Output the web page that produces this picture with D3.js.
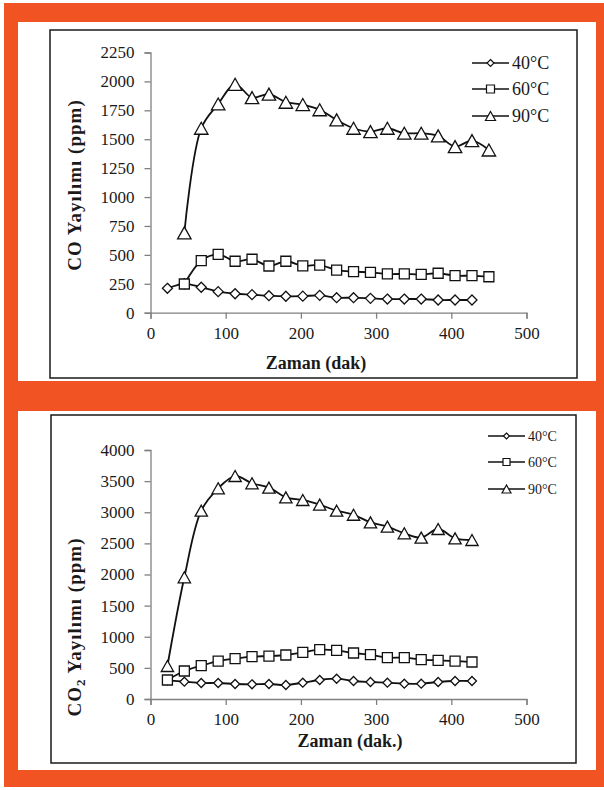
<!DOCTYPE html>
<html><head><meta charset="utf-8">
<script src="https://cdn.jsdelivr.net/npm/d3@7"></script>
<style>
html,body{margin:0;padding:0;background:#fff;}
svg{display:block;}
text{font-family:"Liberation Serif","Times New Roman",serif;fill:#1a1a1a;}
</style></head>
<body><svg id="c" width="604" height="790"></svg>
<script>
// ---------- data ----------
const xTicks = [0, 100, 200, 300, 400, 500];
const coTicks = [0, 250, 500, 750, 1000, 1250, 1500, 1750, 2000, 2250];
const co2Ticks = [0, 500, 1000, 1500, 2000, 2500, 3000, 3500, 4000];
const seriesNames = ["40°C", "60°C", "90°C"];

const timesA = [22.5, 45, 67.5, 90, 112.5, 135, 157.5, 180, 202.5, 225, 247.5, 270, 292.5, 315, 337.5, 360, 382.5, 405, 427.5];
const timesB = [45, 67.5, 90, 112.5, 135, 157.5, 180, 202.5, 225, 247.5, 270, 292.5, 315, 337.5, 360, 382.5, 405, 427.5, 450];

const co40 = [211, 250, 220, 182, 164, 156, 147, 142, 143, 150, 130, 130, 124, 118, 118, 118, 110, 110, 110];
const co60 = [248, 450, 505, 445, 462, 404, 445, 405, 412, 369, 355, 349, 335, 335, 332, 341, 320, 320, 311];
const co90 = [690, 1595, 1805, 1975, 1860, 1890, 1820, 1800, 1755, 1667, 1595, 1566, 1595, 1552, 1552, 1529, 1436, 1488, 1407];

const co2_40 = [300, 278, 257, 257, 241, 236, 241, 225, 262, 305, 326, 289, 273, 262, 246, 246, 273, 289, 289];
const co2_60 = [305, 450, 535, 610, 648, 680, 690, 707, 750, 792, 782, 739, 712, 664, 664, 632, 621, 610, 594];
const co2_90 = [530, 1955, 3025, 3385, 3582, 3465, 3395, 3240, 3197, 3122, 3025, 2960, 2838, 2768, 2662, 2592, 2731, 2581, 2554];

// ---------- drawing ----------
const svg = d3.select("#c");
const ORANGE = "#f15323";
svg.append("rect").attr("x", 4).attr("y", 3).attr("width", 600).attr("height", 784).attr("fill", ORANGE);
svg.append("rect").attr("x", 18).attr("y", 22).attr("width", 578).attr("height", 359).attr("fill", "#fff");
svg.append("rect").attr("x", 18).attr("y", 411).attr("width", 578).attr("height", 359).attr("fill", "#fff");

function marker(type, s) {
  if (type === 0) { const h = s / 2; return `M0,${-h}L${h},0L0,${h}L${-h},0Z`; }
  if (type === 1) { const h = s / 2; return `M${-h},${-h}H${h}V${h}H${-h}Z`; }
  const h = s / 2, w = s * 0.56;
  return `M0,${-h}L${w},${h}L${-w},${h}Z`;
}

function chart(cfg) {
  const g = svg.append("g");
  g.append("rect").attr("x", cfg.box[0]).attr("y", cfg.box[1]).attr("width", cfg.box[2]).attr("height", cfg.box[3])
    .attr("fill", "#fff").attr("stroke", "#1a1a1a").attr("stroke-width", 1.5);
  const x = d3.scaleLinear().domain([0, 500]).range([150.5, 526.5]);
  const y = d3.scaleLinear().domain([0, cfg.yMax]).range([cfg.y0, cfg.y1]);

  const ax = g.append("g").attr("transform", `translate(0,${cfg.y0})`)
    .call(d3.axisBottom(x).tickValues(xTicks).tickSize(6).tickPadding(8).tickFormat(d3.format("d")));
  const ay = g.append("g").attr("transform", `translate(150.5,0)`)
    .call(d3.axisLeft(y).tickValues(cfg.yTicks).tickSize(6).tickPadding(10).tickFormat(d3.format("d")));
  [ax, ay].forEach(a => {
    a.selectAll("path,line").attr("stroke", "#808080").attr("stroke-width", 1.3);
    a.selectAll("text").attr("font-size", 17).attr("fill", "#1a1a1a").style("font-family", '"Liberation Serif", serif');
  });

  const line = d3.line().x(d => x(d[0])).y(d => y(d[1])).curve(d3.curveCatmullRom.alpha(0.5));
  cfg.series.forEach((s, i) => {
    const pts = s.t.map((t, k) => [t, s.v[k]]);
    g.append("path").attr("d", line(pts)).attr("fill", "none").attr("stroke", "#111").attr("stroke-width", 1.8);
  });
  cfg.series.forEach((s, i) => {
    const pts = s.t.map((t, k) => [t, s.v[k]]);
    g.selectAll(null).data(pts).enter().append("path")
      .attr("transform", d => `translate(${x(d[0])},${y(d[1])})`)
      .attr("d", marker(i, cfg.ms[i]))
      .attr("fill", "#fff").attr("stroke", "#111").attr("stroke-width", 1.3);
  });

  // legend
  seriesNames.forEach((n, i) => {
    const ly = cfg.leg.y[i];
    g.append("line").attr("x1", cfg.leg.x0).attr("x2", cfg.leg.x1).attr("y1", ly).attr("y2", ly)
      .attr("stroke", "#111").attr("stroke-width", 1.6);
    g.append("path").attr("transform", `translate(${(cfg.leg.x0 + cfg.leg.x1) / 2},${ly})`)
      .attr("d", marker(i, cfg.leg.ms[i])).attr("fill", "#fff").attr("stroke", "#111").attr("stroke-width", 1.2);
    g.append("text").attr("x", cfg.leg.x1 + 3).attr("y", ly).attr("dy", "0.35em")
      .attr("font-size", cfg.leg.fs).text(n);
  });

  // axis titles
  g.append("text").attr("x", cfg.xt[0]).attr("y", cfg.xt[1]).attr("text-anchor", "middle")
    .attr("font-size", 18).attr("font-weight", "bold").text(cfg.xTitle);
  const yt = g.append("text").attr("transform", `translate(${cfg.yt[0]},${cfg.yt[1]}) rotate(-90)`)
    .attr("text-anchor", "middle").attr("font-size", 19).attr("font-weight", "bold")
    .attr("letter-spacing", 1);
  cfg.yTitle.forEach(p => {
    const ts = yt.append("tspan").text(p.t);
    if (p.sub) ts.attr("font-size", 13).attr("dy", 4);
    if (p.after) ts.attr("dy", -4);
  });
}

chart({
  box: [50, 30, 527, 348], yMax: 2250, y0: 312.7, y1: 52.5, yTicks: coTicks,
  series: [{ t: timesA, v: co40 }, { t: timesB, v: co60 }, { t: timesB, v: co90 }],
  ms: [10, 10, 12],
  leg: { x0: 472, x1: 509, y: [63, 89, 116], ms: [7, 8, 9], fs: 18 },
  xTitle: "Zaman (dak)", xt: [316, 369],
  yTitle: [{ t: "CO Yayılımı (ppm)" }], yt: [81, 185]
});

chart({
  box: [51, 415, 525, 348], yMax: 4000, y0: 699, y1: 450, yTicks: co2Ticks,
  series: [{ t: timesA, v: co2_40 }, { t: timesA, v: co2_60 }, { t: timesA, v: co2_90 }],
  ms: [9, 10, 11],
  leg: { x0: 488, x1: 525, y: [436, 462, 489], ms: [6, 7, 8], fs: 14 },
  xTitle: "Zaman (dak.)", xt: [350, 747],
  yTitle: [{ t: "CO" }, { t: "2", sub: true }, { t: " Yayılımı (ppm)", after: true }], yt: [81, 627]
});
</script></body></html>
